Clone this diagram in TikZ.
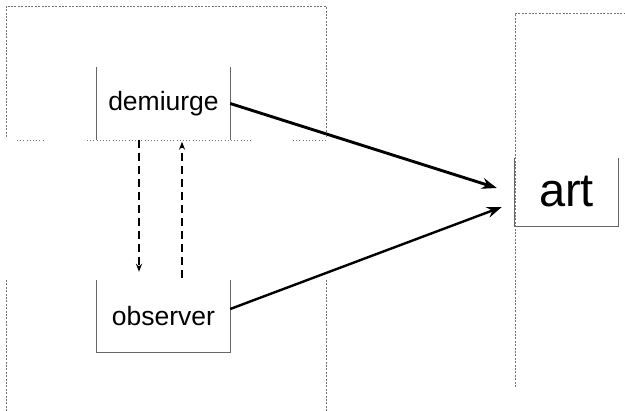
\documentclass[tikz,border=0pt]{standalone}
\usepackage{fontspec}
\setmainfont{Liberation Sans}
\usetikzlibrary{arrows.meta}
\begin{document}
\begin{tikzpicture}[x=1pt,y=-1pt,
  frame/.style={draw=black!55, line width=0.9pt, dash pattern=on 2pt off 1.4pt},
  divider/.style={draw=black!55, line width=0.9pt, dash pattern=on 1pt off 2.2pt},
  side/.style={draw=black!60, line width=0.9pt},
  actor/.style={inner sep=0pt, minimum width=133pt, minimum height=72pt,
                font=\fontsize{26.5}{30}\selectfont},
  flow/.style={line width=2.9pt, -{Stealth[length=15pt,width=11pt]}},
  feedback/.style={dash pattern=on 8pt off 5pt, -{Stealth[length=8pt,width=6pt]}}]
\useasboundingbox (0,0) rectangle (625,411);

% framing regions
\draw[frame] (6,137) -- (6,6) -- (326,6) -- (326,137);
\draw[frame] (6,280) -- (6,411);
\draw[frame] (326,280) -- (326,411);
\draw[frame] (515,387) -- (515,13) -- (625,13);
\draw[divider] (17,140) -- (44,140);
\draw[divider] (87,140) -- (251,140);
\draw[divider] (293,140) -- (327,140);

% actors
\node[actor] (dem) at (163.5,103.5) {demiurge};
\node[actor] (obs) at (163.5,316) {observer};
\node[inner sep=0pt, minimum width=103pt, minimum height=68pt,
      font=\fontsize{47}{52}\selectfont] (art) at (566.5,192) {art};

\draw[side] (dem.north west) -- (dem.south west);
\draw[side] (dem.north east) -- (dem.south east);
\draw[side] (obs.north west) -- (obs.south west) -- (obs.south east) -- (obs.north east);
\draw[side] (art.north west) -- (art.south west) -- (art.south east) -- (art.north east);

% connectors
\draw[flow] (dem.east) -- ([xshift=-18pt,yshift=4pt]art.west);
\draw[flow, line width=2.4pt] ([yshift=7pt]obs.east) -- ([xshift=-13pt,yshift=-15pt]art.west);
\draw[feedback, line width=2.8pt] ([xshift=-24.5pt]dem.south) -- ([xshift=-24.5pt,yshift=8pt]obs.north);
\draw[feedback, line width=1.6pt] ([xshift=18.5pt,yshift=2pt]obs.north) -- ([xshift=18.5pt,yshift=-2pt]dem.south);
\end{tikzpicture}
\end{document}
